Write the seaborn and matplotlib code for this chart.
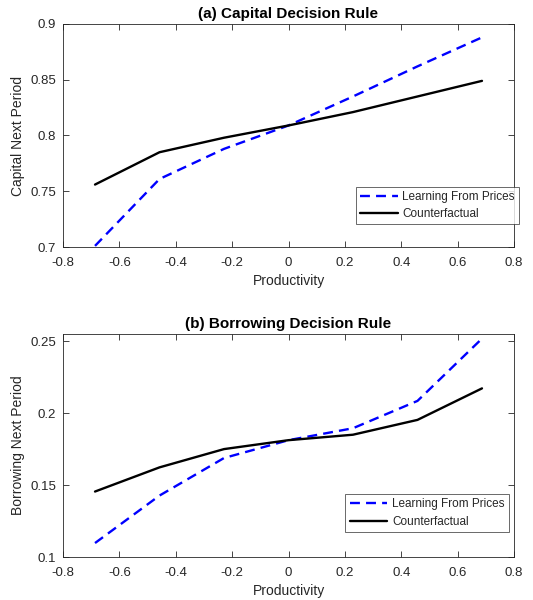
import numpy as np
import pandas as pd
import matplotlib
matplotlib.use("Agg")
import matplotlib.pyplot as plt
import seaborn as sns

productivity = [-0.6864, -0.4576, -0.2288, 0.0, 0.2288, 0.4576, 0.6864]
capital_learning = [0.701, 0.761, 0.788, 0.809, 0.835, 0.862, 0.888]
capital_counter = [0.756, 0.785, 0.798, 0.809, 0.821, 0.835, 0.849]
borrow_learning = [0.1097, 0.1427, 0.1688, 0.1812, 0.1895, 0.2085, 0.2518]
borrow_counter = [0.1455, 0.1623, 0.1750, 0.1812, 0.1850, 0.1953, 0.2172]
series_names = ["Learning From Prices", "Counterfactual"]
titles = ["(a) Capital Decision Rule", "(b) Borrowing Decision Rule"]
ylabels = ["Capital Next Period", "Borrowing Next Period"]
xticks = [-0.8, -0.6, -0.4, -0.2, 0, 0.2, 0.4, 0.6, 0.8]
yticks_a = [0.7, 0.75, 0.8, 0.85, 0.9]
yticks_b = [0.1, 0.15, 0.2, 0.25]

sns.set_style("white")
plt.rcParams['font.family'] = ['Liberation Sans', 'DejaVu Sans']

def make_df(learn, counter):
    return pd.DataFrame({
        "x": productivity * 2,
        "y": list(learn) + list(counter),
        "series": [series_names[0]] * len(productivity) + [series_names[1]] * len(productivity),
    })

fig = plt.figure(figsize=(5.33, 6.0), dpi=100)
W, H = 533, 600
ax_a = fig.add_axes([63 / W, 1 - 247 / H, (514 - 63) / W, (247 - 24) / H])
ax_b = fig.add_axes([63 / W, 1 - 557 / H, (514 - 63) / W, (557 - 334) / H])

gray = "#262626"
panels = [
    (ax_a, make_df(capital_learning, capital_counter), titles[0], ylabels[0], yticks_a, (0.7, 0.9), ["0.7", "0.75", "0.8", "0.85", "0.9"],
     (357 / W, 1 - 223 / H, (518 - 357) / W, 35 / H)),
    (ax_b, make_df(borrow_learning, borrow_counter), titles[1], ylabels[1], yticks_b, (0.1, 0.255), ["0.1", "0.15", "0.2", "0.25"],
     (346 / W, 1 - 530 / H, (508 - 346) / W, 34 / H)),
]

for ax, df, title, ylabel, yt, ylim, ytl, legbox in panels:
    sns.lineplot(data=df, x="x", y="y", hue="series", style="series",
                 palette={series_names[0]: "#0000ff", series_names[1]: "#000000"},
                 dashes={series_names[0]: (4.2, 2.6), series_names[1]: ""},
                 linewidth=1.7, ax=ax, legend=True)
    ax.set_xlim(-0.8, 0.8)
    ax.set_ylim(*ylim)
    ax.set_xticks(xticks)
    ax.set_xticklabels(["-0.8", "-0.6", "-0.4", "-0.2", "0", "0.2", "0.4", "0.6", "0.8"])
    ax.set_yticks(yt)
    ax.set_yticklabels(ytl)
    ax.tick_params(direction="in", length=4, width=0.6, colors=gray, labelsize=9.5,
                   top=True, right=True, bottom=True, left=True)
    ax.tick_params(axis="x", pad=7)
    ax.tick_params(axis="y", pad=5)
    for s in ax.spines.values():
        s.set_visible(True)
        s.set_color(gray)
        s.set_linewidth(0.6)
    ax.set_xlabel("Productivity", fontsize=10, color=gray, labelpad=4)
    ax.set_ylabel(ylabel, fontsize=10, color=gray, labelpad=4)
    ax.set_title(title, fontsize=11, fontweight="bold", color="black", pad=4)
    handles, labels = ax.get_legend_handles_labels()
    fig_leg = ax.legend(handles, labels, loc="center", bbox_to_anchor=legbox,
                        bbox_transform=fig.transFigure, frameon=True, fancybox=False,
                        fontsize=8.5, handlelength=3.2, handletextpad=0.4,
                        borderpad=0.35, labelspacing=0.45, borderaxespad=0)
    fig_leg.get_frame().set_edgecolor(gray)
    fig_leg.get_frame().set_linewidth(0.6)

fig.savefig("out.png", dpi=100)
